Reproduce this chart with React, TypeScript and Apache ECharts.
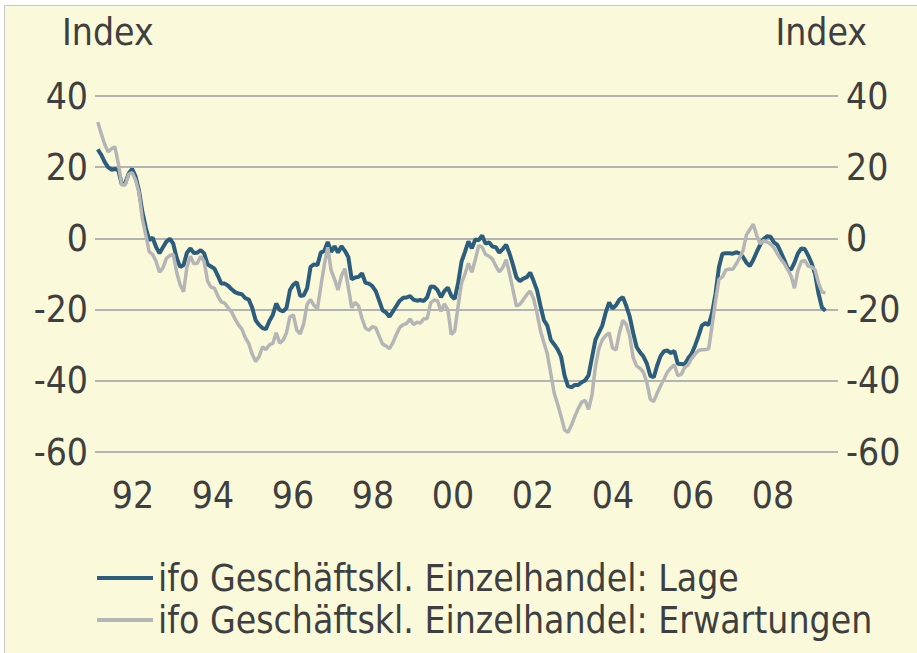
import React, { useEffect, useRef } from "react";
import * as echarts from "echarts";

// Monthly data, March 1991 .. November 2008
const START_YEAR = 1991;
const START_MONTH = 2; // 0-based: March

const lage: number[] = [
  // 1991 (Mar-Dec)
  25, 23.5, 21.5, 20, 19.3, 19.5, 19.2, 15.2, 15.5, 18.2,
  // 1992
  19.5, 17.5, 13.5, 7.5, 3, -0.5, 0.2, -2.4, -4.2, -2.5, -0.9, -0.1,
  // 1993
  -1.5, -5.5, -8, -7.5, -4, -2.8, -4.1, -4.0, -3.3, -4.2, -7.3, -7.9,
  // 1994
  -8.5, -10.5, -12.7, -12.7, -13.3, -14.3, -15.1, -15.5, -15.7, -16.8, -17.2, -19.5,
  // 1995
  -23, -24.3, -25.2, -25.5, -23.2, -21.5, -18.3, -20.1, -20.5, -19.5, -14.5, -13,
  // 1996
  -12.3, -16.2, -16, -14, -8, -7.3, -7.5, -4, -3.5, -1, -3.8, -2.2,
  // 1997
  -4, -2.2, -3.5, -5.2, -11.5, -11, -10.8, -9.8, -12.5, -12.7, -13.4, -14.8,
  // 1998
  -17.5, -20.2, -20.8, -22, -20.5, -19, -17.5, -16.7, -16.6, -16.2, -17.2, -17.5,
  // 1999
  -17.3, -17.6, -16.5, -13.5, -13.6, -14.5, -16.5, -14.8, -13.8, -16.1, -17, -12.5,
  // 2000
  -6.5, -3.8, -0.8, -2.8, -0.3, -0.5, 0.8, -1.5, -1.1, -2.3, -2.5, -4.0,
  // 2001
  -3, -1.8, -4.3, -7.5, -11, -12, -11.3, -10.9, -9.6, -12, -14.6, -19,
  // 2002
  -23, -24.5, -28.5, -29.8, -31.2, -33.2, -38.5, -41.5, -41.8, -41.2, -41.2, -40.4,
  // 2003
  -39.9, -38.5, -33.5, -28.5, -26.5, -24.5, -20.8, -18, -19.7, -18.8, -17.2, -16.5,
  // 2004
  -19, -22, -26.5, -30.5, -32, -33.2, -35.2, -38.6, -39, -35.7, -33, -31.7,
  // 2005
  -31.5, -32.2, -31.6, -35.2, -35.3, -35.4, -33.7, -32.5, -30.2, -27.5, -24.5, -23.8,
  // 2006
  -24.3, -21, -15.5, -8, -4.3, -4.2, -4.2, -4.3, -3.9, -4.2, -5.2, -6.8,
  // 2007
  -7.8, -6, -3.8, -1.8, -0.2, 0.6, 0.5, -1.1, -1.8, -3.8, -6, -8.4,
  // 2008 (Jan-Nov)
  -8.8, -6.8, -4.2, -2.8, -3, -4.8, -7, -10, -15.5, -19.4, -20.3,
];

const erwartungen: number[] = [
  // 1991 (Mar-Dec)
  32.7, 29.5, 26.5, 24.3, 25.2, 25.7, 21, 15, 15, 18,
  // 1992
  18.5, 16.5, 13, 5.5, 1, -3.8, -4.5, -6.5, -9.5, -8.3, -5.6, -4.8,
  // 1993
  -4.5, -9.5, -13, -15, -8, -5, -7.1, -7.0, -5, -6.5, -12, -13.7,
  // 1994
  -14, -16.2, -17.8, -18.2, -19.5, -20.7, -22.6, -24.3, -25.5, -27.9, -29.5, -32.5,
  // 1995
  -34.6, -33.2, -30.5, -31.2, -29.9, -29.5, -26.5, -29.4, -28.6, -26.5, -22, -21.5,
  // 1996
  -25.8, -26.8, -24, -18.5, -17.2, -18.8, -19.8, -13.5, -7.5, -2.5, -9, -11.5,
  // 1997
  -14.5, -10.5, -8.5, -13.7, -19.5, -18, -19, -22.5, -25.2, -25.8, -24.8, -25.1,
  // 1998
  -27.5, -29.7, -30.2, -31, -29.3, -27, -25, -24.2, -23.9, -22.6, -24.2, -23.5,
  // 1999
  -23.8, -22.6, -22.5, -18.1, -17.3, -17.5, -20.5, -18.4, -20, -27, -26, -19,
  // 2000
  -12.5, -10, -7, -9.5, -6, -2, -2.5, -4.5, -5, -5.8, -7.8, -9.4,
  // 2001
  -8.2, -6, -10, -14.5, -19, -18.5, -17.2, -15.8, -14.8, -17, -21, -26,
  // 2002
  -29.3, -32.5, -38, -43.5, -46.6, -50, -53.8, -54.5, -52.5, -50, -47.8, -46,
  // 2003
  -45.5, -48, -44, -36, -31, -28.5, -27.3, -26.5, -30.8, -31.3, -26.5, -23,
  // 2004
  -24.2, -27.5, -33.5, -35.8, -36.5, -37.6, -40.5, -45.2, -45.8, -43.4, -41.4, -39.5,
  // 2005
  -37.5, -36.4, -35.5, -38.5, -38.2, -36.3, -35.5, -33.8, -32.5, -31.5, -31.3, -31.2,
  // 2006
  -31, -24.5, -17.5, -11.5, -10.8, -8.9, -8.6, -8.7, -7.2, -5.5, -3.5, 1.0,
  // 2007
  2.5, 4.0, 0.8, -1.5, -0.6, -1.0, -1.6, -2.6, -4.3, -5.8, -7.0, -8.7,
  // 2008 (Jan-Nov)
  -10.5, -14, -9, -6.5, -6.2, -7.8, -8, -8.8, -12.5, -15, -15.4,
];

const yearTicks: number[] = [1992, 1994, 1996, 1998, 2000, 2002, 2004, 2006, 2008];
const seriesNames: string[] = [
  "ifo Geschäftskl. Einzelhandel: Lage",
  "ifo Geschäftskl. Einzelhandel: Erwartungen",
];
const axisTitle = "Index";

const FONT = "'DejaVu Sans Condensed', 'Liberation Sans Narrow', 'Arial Narrow', sans-serif";
const FS = 37;
const TEXT = "#3f3f3f";
const BG = "#FAF9DA";

function toPairs(values: number[]) {
  return values.map((v, i) => [START_YEAR + (START_MONTH + i) / 12, v]);
}

export default function App() {
  const ref = useRef<HTMLDivElement>(null);

  useEffect(() => {
    document.body.style.margin = "0";
    if (!ref.current) return;
    const chart = echarts.init(ref.current, null, { renderer: "svg" });
    const yAxisBase = {
      type: "value" as const,
      min: -60,
      max: 40,
      interval: 20,
      axisLine: { show: false },
      axisTick: { show: false },
    };
    const labelStyle = { fontSize: FS, color: TEXT, fontFamily: FONT };
    chart.setOption({
      animation: false,
      backgroundColor: "#ffffff",
      textStyle: { fontFamily: FONT },
      graphic: [
        {
          type: "rect",
          z: -10,
          silent: true,
          shape: { x: 4.5, y: 5.5, width: 920, height: 660 },
          style: { fill: BG, stroke: "#c8c8c8", lineWidth: 1 },
        },
        {
          type: "text",
          left: 62,
          top: 14,
          style: { text: axisTitle, fontSize: FS, fill: TEXT, fontFamily: FONT },
        },
        {
          type: "text",
          right: 50,
          top: 14,
          style: { text: axisTitle, fontSize: FS, fill: TEXT, fontFamily: FONT },
        },
      ],
      grid: { left: 95, right: 79, top: 96, bottom: 201, containLabel: false },
      xAxis: [
        {
          // data axis (monthly positions)
          type: "value",
          min: 1991.1,
          max: 2009.14,
          axisLine: { show: false },
          axisTick: { show: false },
          splitLine: { show: false },
          axisLabel: { show: false },
        },
        {
          // label axis, as laid out in the original chart
          type: "value",
          position: "bottom",
          min: 1991.05,
          max: 2009.625,
          axisLine: { show: false },
          axisTick: { show: false },
          splitLine: { show: false },
          axisLabel: {
            ...labelStyle,
            customValues: yearTicks,
            formatter: (v: number) => String(Math.round(v)).slice(2),
            margin: 25,
          },
        },
      ],
      yAxis: [
        {
          ...yAxisBase,
          position: "left",
          splitLine: { show: true, lineStyle: { color: "#b3b3b3", width: 2 } },
          axisLabel: { ...labelStyle, margin: 7 },
        },
        {
          ...yAxisBase,
          position: "right",
          splitLine: { show: false },
          axisLabel: { ...labelStyle, margin: 8 },
        },
      ],
      legend: {
        orient: "vertical",
        left: 97,
        top: 558,
        icon: "rect",
        itemWidth: 56,
        itemHeight: 4,
        itemGap: 2,
        padding: 0,
        textStyle: { ...labelStyle, lineHeight: 40 },
        data: seriesNames,
      },
      series: [
        {
          name: seriesNames[0],
          type: "line",
          xAxisIndex: 0,
          yAxisIndex: 0,
          data: toPairs(lage),
          showSymbol: false,
          symbol: "none",
          lineStyle: { color: "#2c5d7c", width: 4 },
          itemStyle: { color: "#2c5d7c" },
        },
        {
          name: seriesNames[1],
          type: "line",
          xAxisIndex: 0,
          yAxisIndex: 0,
          data: toPairs(erwartungen),
          showSymbol: false,
          symbol: "none",
          lineStyle: { color: "#b5b5b5", width: 3.5 },
          itemStyle: { color: "#b5b5b5" },
        },
      ],
    });
    return () => chart.dispose();
  }, []);

  return (
    <div
      ref={ref}
      style={{ position: "fixed", left: 0, top: 0, width: 917, height: 653 }}
    />
  );
}
